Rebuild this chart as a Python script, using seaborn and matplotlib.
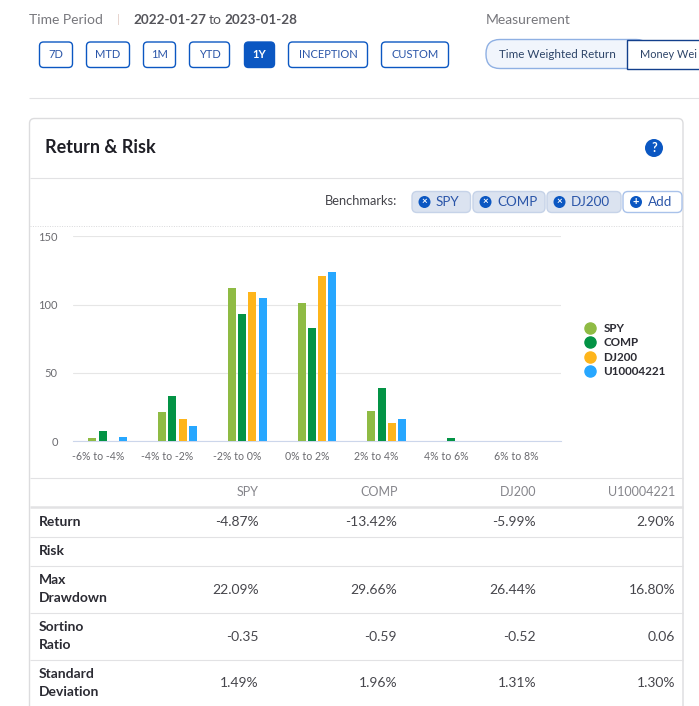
import matplotlib
matplotlib.use('Agg')
import matplotlib.pyplot as plt
import pandas as pd
import seaborn as sns
from matplotlib.lines import Line2D
from matplotlib.patches import Circle, FancyBboxPatch, Rectangle
from matplotlib.transforms import ScaledTranslation

W, H = 699, 706

# chart data
bins = ['-6% to -4%', '-4% to -2%', '-2% to 0%', '0% to 2%', '2% to 4%', '4% to 6%', '6% to 8%']
spy = [2, 21, 112, 101, 22, 0, 0]
comp = [7, 33, 93, 83, 39, 2, 0]
dj200 = [0, 16, 109, 121, 13, 0, 0]
u10004221 = [3, 11, 105, 124, 16, 0, 0]
names = ['SPY', 'COMP', 'DJ200', 'U10004221']
colors = ['#8fbb44', '#039345', '#feb51b', '#27a7ff']
y_ticks = [0, 50, 100, 150]

# table data
return_row = ['-4.87%', '-13.42%', '-5.99%', '2.90%']
drawdown_row = ['22.09%', '29.66%', '26.44%', '16.80%']
sortino_row = ['-0.35', '-0.59', '-0.52', '0.06']
stdev_row = ['1.49%', '1.96%', '1.31%', '1.30%']
periods = ['7D', 'MTD', '1M', 'YTD', '1Y', 'INCEPTION', 'CUSTOM']
period_left = [39.5, 86.5, 143.5, 189.5, 244.5, 288.5, 381.5]
period_right = [72.5, 129.5, 175.5, 229.5, 274.5, 367.5, 448.5]

BLUE = '#0b57c2'
DARK = '#2b2b33'
GREY = '#6f6f76'
LINE = '#e2e2e4'

sns.set_theme(style='white')
plt.rcParams['font.family'] = ['Lato', 'DejaVu Sans']

fig = plt.figure(figsize=(W / 100, H / 100), dpi=100, facecolor='white')

# full page layer in pixel coordinates for the surrounding UI
ui = fig.add_axes([0, 0, 1, 1], zorder=0)
ui.set_xlim(0, W)
ui.set_ylim(H, 0)
ui.axis('off')


def txt(x, y, s, size=10, color=DARK, ha='left', weight='normal'):
    ui.text(x, y + 0.8, s, fontsize=size, color=color, ha=ha, va='center', fontweight=weight)


def box(x0, y0, x1, y1, face='white', edge=BLUE, r=4, lw=1.0):
    ui.add_patch(FancyBboxPatch((x0, y0), x1 - x0, y1 - y0, boxstyle=f'round,pad=0,rounding_size={r}',
                                fc=face, ec=edge, lw=lw))


def hline(y, x0=29.5, x1=683, color=LINE, lw=0.8, ls='-'):
    ui.plot([x0, x1], [y, y], color=color, lw=lw, ls=ls, solid_capstyle='butt')


# time period header
txt(29, 19, 'Time Period', color='#77777c')
txt(117, 18.5, '|', size=8, color='#e0c8c0')
txt(133, 19, '2022-01-27', size=9.7, color='#55555b', weight='bold')
txt(209, 19, 'to', color='#55555b')
txt(224.5, 19, '2023-01-28', size=9.7, color='#55555b', weight='bold')
txt(486, 19, 'Measurement', color='#77777c')

for label, x0, x1 in zip(periods, period_left, period_right):
    active = label == '1Y'
    box(x0, 42, x1, 67.5, face=BLUE if active else 'white', lw=1.0)
    txt((x0 + x1) / 2, 53.8, label, size=8, ha='center',
        color='white' if active else '#2a55a8', weight='bold' if active else 'normal')

box(486, 39.5, 650, 68.5, face='#f1f5fc', edge='#8fb0e3', r=14)
ui.add_patch(Rectangle((627, 39.5), 90, 29, fc='white', ec='#123f8c', lw=1.0, clip_on=True))
txt(499, 53.8, 'Time Weighted Return', size=8.4, color='#2d4468')
txt(640, 53.8, 'Money Wei', size=7.9, color='#2d4468')
hline(97.5, x0=29, x1=W)

# card
box(29.5, 118.5, 683, 730, edge='#dcdcde', r=5)
txt(45, 147, 'Return & Risk', size=13, color='#1f1f26', weight='bold')
ui.add_patch(Circle((654, 148), 9, fc=BLUE, ec='none'))
txt(654, 147.5, '?', size=9, color='white', ha='center', weight='bold')
hline(177.5)

# benchmark chips
txt(397, 200.5, 'Benchmarks:', size=9.3, color='#44444a', ha='right')
chips = [('SPY', 412, 470.5), ('COMP', 473, 545), ('DJ200', 547, 621)]
for label, x0, x1 in chips:
    box(x0, 191.5, x1, 212.5, face='#dbe3f0', edge='#c6d3e8', r=5)
    ui.add_patch(Circle((x0 + 12.5, 202), 6, fc=BLUE, ec='none'))
    txt(x0 + 12.5, 200.7, '×', size=7, color='white', ha='center', weight='bold')
    txt(x0 + 24, 201.3, label, size=9.7, color='#2a55a8')
box(623, 191.5, 682, 212.5, edge='#a9c2ea', r=5)
ui.add_patch(Circle((636, 202), 6, fc=BLUE, ec='none'))
txt(636, 200.7, '+', size=8, color='white', ha='center', weight='bold')
txt(648, 201.3, 'Add', size=9.7, color='#2a55a8')
hline(226, color='#d8d8da', lw=0.7, ls=(0, (1, 1.5)))

# table
hline(477.5)
hline(507, lw=1.8)
for y in [536.5, 565.5, 612.5, 659.5]:
    hline(y)

col_right = [258.5, 397, 536, 675]
for name, x in zip(names, col_right):
    txt(x + 0.5, 491, name, size=9, color='#85858b', ha='right')

rows = [(521, return_row), (589, drawdown_row), (636, sortino_row), (682, stdev_row)]
for y, row in rows:
    for value, x in zip(row, col_right):
        txt(x, y, value, color='#46464c', ha='right')

labels = [(521, 'Return'), (550, 'Risk'), (579, 'Max'), (597, 'Drawdown'), (626, 'Sortino'),
          (644.5, 'Ratio'), (673, 'Standard'), (691, 'Deviation')]
for y, label in labels:
    txt(38.5, y, label, color=DARK, weight='bold')

# the bar chart itself
df = pd.DataFrame({'bin': bins * 4,
                   'series': [n for n in names for _ in bins],
                   'count': spy + comp + dj200 + u10004221})

ax = fig.add_axes([73 / W, 1 - 441 / H, 488 / W, 204.5 / H], zorder=1)
ax.patch.set_alpha(0)
sns.barplot(data=df, x='bin', y='count', hue='series', hue_order=names, order=bins, palette=colors,
            width=0.59, gap=0.22, saturation=1, linewidth=0, legend=False, ax=ax, zorder=3)
ax.set_xlim(-0.5, 6.5)
ax.set_ylim(0, 150)
ax.set_yticks(y_ticks)
ax.set_xlabel('')
ax.set_ylabel('')
ax.grid(axis='y', color='#e6e6e6', lw=0.8)
ax.set_axisbelow(True)
ax.tick_params(axis='both', length=0, labelcolor='#6b6b70')
ax.tick_params(axis='x', pad=7.5, labelsize=7.6)
ax.tick_params(axis='y', pad=11, labelsize=8)
for side in ['top', 'right', 'left']:
    ax.spines[side].set_visible(False)
ax.spines['bottom'].set_color('#ccd6eb')
ax.spines['bottom'].set_linewidth(0.8)

# x labels sit 10px left of their bar groups in the original
for t in ax.get_xticklabels():
    t.set_transform(t.get_transform() + ScaledTranslation(-0.1, 0, fig.dpi_scale_trans))

handles = [Line2D([], [], ls='', marker='o', ms=8, color=c, label=n) for n, c in zip(names, colors)]
leg = fig.legend(handles=handles, loc='center left', bbox_to_anchor=(575 / W, 1 - 350 / H), frameon=False,
                 prop={'size': 8.4, 'weight': 'bold'}, handletextpad=0.35, labelspacing=0.3, borderpad=0,
                 handlelength=1.6)
for t in leg.get_texts():
    t.set_color(DARK)

fig.savefig('out.png', dpi=100)
